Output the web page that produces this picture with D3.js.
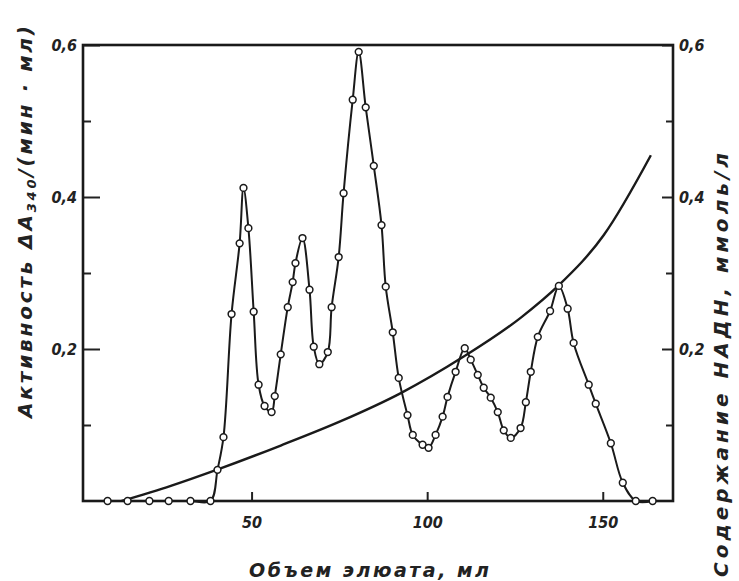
<!DOCTYPE html>
<html>
<head>
<meta charset="utf-8">
<script src="https://cdn.jsdelivr.net/npm/d3@7"></script>
<style>
  body { margin: 0; background: #fff; }
  svg text { font-family: "Liberation Sans Narrow", "DejaVu Sans Condensed", sans-serif; font-style: italic; fill: #222; }
  svg text.title { font-family: "DejaVu Sans", sans-serif; }
</style>
</head>
<body>
<div id="chart"></div>
<script>
// elution volume (ml) and enzyme activity
const volume = [9.0, 14.7, 20.9, 26.4, 32.6, 38.3, 40.3, 42.0, 44.3, 46.6, 47.7, 49.1, 50.6, 52.0, 53.7, 55.7,
  56.6, 58.3, 60.3, 61.7, 62.5, 64.5, 66.5, 67.7, 69.3, 71.7, 72.8, 74.8, 76.2, 78.8, 80.5, 82.5, 84.8, 87.0,
  88.2, 90.2, 91.9, 94.4, 95.9, 98.7, 100.4, 102.4, 104.4, 105.8, 108.1, 110.7, 112.4, 114.4, 116.1, 118.1,
  120.1, 121.8, 123.8, 126.6, 128.1, 129.5, 131.5, 135.0, 137.5, 140.0, 141.7, 146.0, 148.0, 152.3, 155.7,
  159.4, 164.2];
const activity = [0, 0, 0, 0, 0, 0, 0.041, 0.084, 0.246, 0.339, 0.412, 0.359, 0.249, 0.153, 0.125, 0.117,
  0.138, 0.193, 0.255, 0.288, 0.313, 0.346, 0.278, 0.203, 0.180, 0.196, 0.255, 0.321, 0.405, 0.528, 0.591,
  0.518, 0.441, 0.363, 0.282, 0.222, 0.162, 0.113, 0.087, 0.074, 0.070, 0.087, 0.111, 0.137, 0.170, 0.201,
  0.186, 0.166, 0.149, 0.136, 0.117, 0.093, 0.083, 0.096, 0.130, 0.170, 0.216, 0.250, 0.283, 0.253, 0.208,
  0.153, 0.128, 0.076, 0.024, 0, 0];

// NADH gradient
const nadhVolume = [13.0, 27.0, 40.6, 58.3, 75.4, 92.5, 110.4, 126.6, 137.5, 150.3, 163.7];
const nadh = [0.0, 0.020, 0.042, 0.073, 0.105, 0.142, 0.190, 0.241, 0.284, 0.350, 0.455];

const xTicks = [50, 100, 150];
const yMajor = [0.2, 0.4, 0.6];
const yMinor = [0.1, 0.3, 0.5];

const W = 739, H = 581;
const margin = { left: 83, right: 673, top: 45, bottom: 501 };

const svg = d3.select("#chart").append("svg")
  .attr("width", W)
  .attr("height", H);

const x = d3.scaleLinear().domain([2, 170]).range([margin.left, margin.right]);
const y = d3.scaleLinear().domain([0, 0.6]).range([margin.bottom, margin.top]);
const yR = d3.scaleLinear().domain([0, 0.6]).range([margin.bottom, margin.top]);

const fmt = d => d3.format(".1f")(d).replace(".", ",");

// left axis, ticks inside
svg.append("g").attr("transform", `translate(${margin.left},0)`)
  .call(d3.axisLeft(y).tickValues(yMajor).tickSizeInner(-17).tickSizeOuter(0).tickPadding(6).tickFormat(fmt));
svg.append("g").attr("transform", `translate(${margin.left},0)`)
  .call(d3.axisLeft(y).tickValues(yMinor).tickSizeInner(-8).tickSizeOuter(0).tickFormat(""));

// right axis, ticks inside
svg.append("g").attr("transform", `translate(${margin.right},0)`)
  .call(d3.axisRight(yR).tickValues(yMajor).tickSizeInner(-11).tickSizeOuter(0).tickPadding(6).tickFormat(fmt));
svg.append("g").attr("transform", `translate(${margin.right},0)`)
  .call(d3.axisRight(yR).tickValues(yMinor).tickSizeInner(-7).tickSizeOuter(0).tickFormat(""));

// bottom axis
svg.append("g").attr("transform", `translate(0,${margin.bottom})`)
  .call(d3.axisBottom(x).tickValues(xTicks).tickSizeInner(-9).tickSizeOuter(0).tickPadding(16).tickFormat(d3.format("d")));

svg.selectAll(".domain").remove();
svg.selectAll(".tick line").attr("stroke", "#222").attr("stroke-width", 2);
svg.selectAll(".tick text").attr("font-size", 16).attr("font-weight", "bold").attr("fill", "#222");

// frame
svg.append("rect")
  .attr("x", margin.left).attr("y", margin.top)
  .attr("width", margin.right - margin.left).attr("height", margin.bottom - margin.top)
  .attr("fill", "none").attr("stroke", "#1a1a1a").attr("stroke-width", 2.6);

// NADH curve
const nadhData = nadhVolume.map((v, i) => ({ v, c: nadh[i] }));
svg.append("path")
  .datum(nadhData)
  .attr("fill", "none")
  .attr("stroke", "#1a1a1a")
  .attr("stroke-width", 2.4)
  .attr("d", d3.line().x(d => x(d.v)).y(d => yR(d.c)).curve(d3.curveMonotoneX));

// activity curve
const actData = volume.map((v, i) => ({ v, a: activity[i] }));
svg.append("path")
  .datum(actData)
  .attr("fill", "none")
  .attr("stroke", "#1a1a1a")
  .attr("stroke-width", 2)
  .attr("d", d3.line().x(d => x(d.v)).y(d => y(d.a)).curve(d3.curveCatmullRom.alpha(0.5)));

svg.selectAll("circle.pt")
  .data(actData)
  .enter()
  .append("circle")
    .attr("class", "pt")
    .attr("cx", d => x(d.v))
    .attr("cy", d => y(d.a))
    .attr("r", 3.4)
    .attr("fill", "#fff")
    .attr("stroke", "#1a1a1a")
    .attr("stroke-width", 1.5);

// axis titles
const yl = svg.append("text")
  .attr("class", "title")
  .attr("transform", "translate(32,222) rotate(-90)")
  .attr("text-anchor", "middle")
  .attr("font-size", 20)
  .attr("font-weight", "bold")
  .attr("textLength", 392)
  .attr("lengthAdjust", "spacing");
yl.append("tspan").text("Активность  ΔA");
yl.append("tspan").attr("font-size", 13).attr("dy", 4).text("340");
yl.append("tspan").attr("dy", -4).text("/(мин · мл)");

svg.append("text")
  .attr("class", "title")
  .attr("transform", "translate(728,365) rotate(-90)")
  .attr("text-anchor", "middle")
  .attr("font-size", 20)
  .attr("font-weight", "bold")
  .attr("textLength", 424)
  .attr("lengthAdjust", "spacing")
  .text("Содержание НАДН, ммоль/л");

svg.append("text")
  .attr("class", "title")
  .attr("x", 369)
  .attr("y", 577)
  .attr("text-anchor", "middle")
  .attr("font-size", 19)
  .attr("font-weight", "bold")
  .attr("textLength", 240)
  .attr("lengthAdjust", "spacing")
  .text("Объем элюата, мл");
</script>
</body>
</html>
